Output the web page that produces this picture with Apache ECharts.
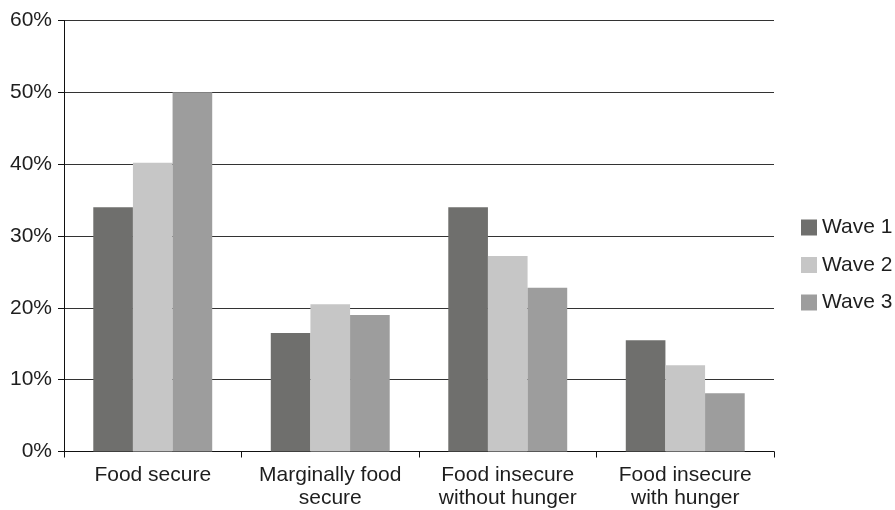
<!DOCTYPE html>
<html>
<head>
<meta charset="utf-8">
<script src="https://cdn.jsdelivr.net/npm/echarts@6/dist/echarts.min.js"></script>
<style>
  html, body { margin: 0; padding: 0; background: #fff; }
  #chart { width: 895px; height: 510px; }
</style>
</head>
<body>
<div id="chart"></div>
<script>
// Food security status by survey wave (share of households, %)
const categories = ['Food secure', 'Marginally food\nsecure', 'Food insecure\nwithout hunger', 'Food insecure\nwith hunger'];
const wave1 = [34, 16.5, 34, 15.5];
const wave2 = [40.2, 20.5, 27.2, 12];
const wave3 = [50, 19, 22.8, 8.1];
const seriesNames = ['Wave 1', 'Wave 2', 'Wave 3'];
const yTicks = { min: 0, max: 60, interval: 10 };

const FONT = "'Liberation Sans', Arial, Helvetica, sans-serif";
const TEXT = '#1e1e1e';
const colors = ['#6f6f6d', '#c6c6c6', '#9d9d9d'];

const chart = echarts.init(document.getElementById('chart'), null, { renderer: 'canvas' });

const makeBar = (name, data, color) => ({
  name: name,
  type: 'bar',
  data: data,
  barGap: '0%',
  barCategoryGap: '33%',
  itemStyle: { color: color },
  emphasis: { disabled: true }
});

chart.setOption({
  animation: false,
  textStyle: { fontFamily: FONT },
  grid: { left: 64, right: 121, top: 20.5, bottom: 58.5, containLabel: false },
  legend: {
    orient: 'vertical',
    left: 801,
    top: 217,
    padding: 0,
    itemWidth: 16,
    itemHeight: 16,
    itemGap: 16.5,
    icon: 'rect',
    selectedMode: false,
    textStyle: { fontFamily: FONT, fontSize: 21, color: TEXT, lineHeight: 21, padding: [0, 0, 0, 0] },
    data: seriesNames
  },
  xAxis: {
    type: 'category',
    data: categories,
    axisLine: { show: true, lineStyle: { color: '#111', width: 1 } },
    axisTick: { show: true, length: 6, alignWithLabel: false, lineStyle: { color: '#111' } },
    axisLabel: {
      interval: 0,
      margin: 12,
      fontFamily: FONT,
      fontSize: 21,
      lineHeight: 23,
      color: TEXT
    },
    splitLine: { show: false }
  },
  yAxis: {
    type: 'value',
    min: yTicks.min,
    max: yTicks.max,
    interval: yTicks.interval,
    axisLine: { show: true, lineStyle: { color: '#111', width: 1 } },
    axisTick: { show: true, length: 6, lineStyle: { color: '#111' } },
    axisLabel: {
      formatter: '{value}%',
      margin: 12,
      fontFamily: FONT,
      fontSize: 21,
      color: TEXT
    },
    splitLine: { show: true, lineStyle: { color: '#333333', width: 1.2 } }
  },
  series: [
    makeBar(seriesNames[0], wave1, colors[0]),
    makeBar(seriesNames[1], wave2, colors[1]),
    makeBar(seriesNames[2], wave3, colors[2])
  ]
});
</script>
</body>
</html>
